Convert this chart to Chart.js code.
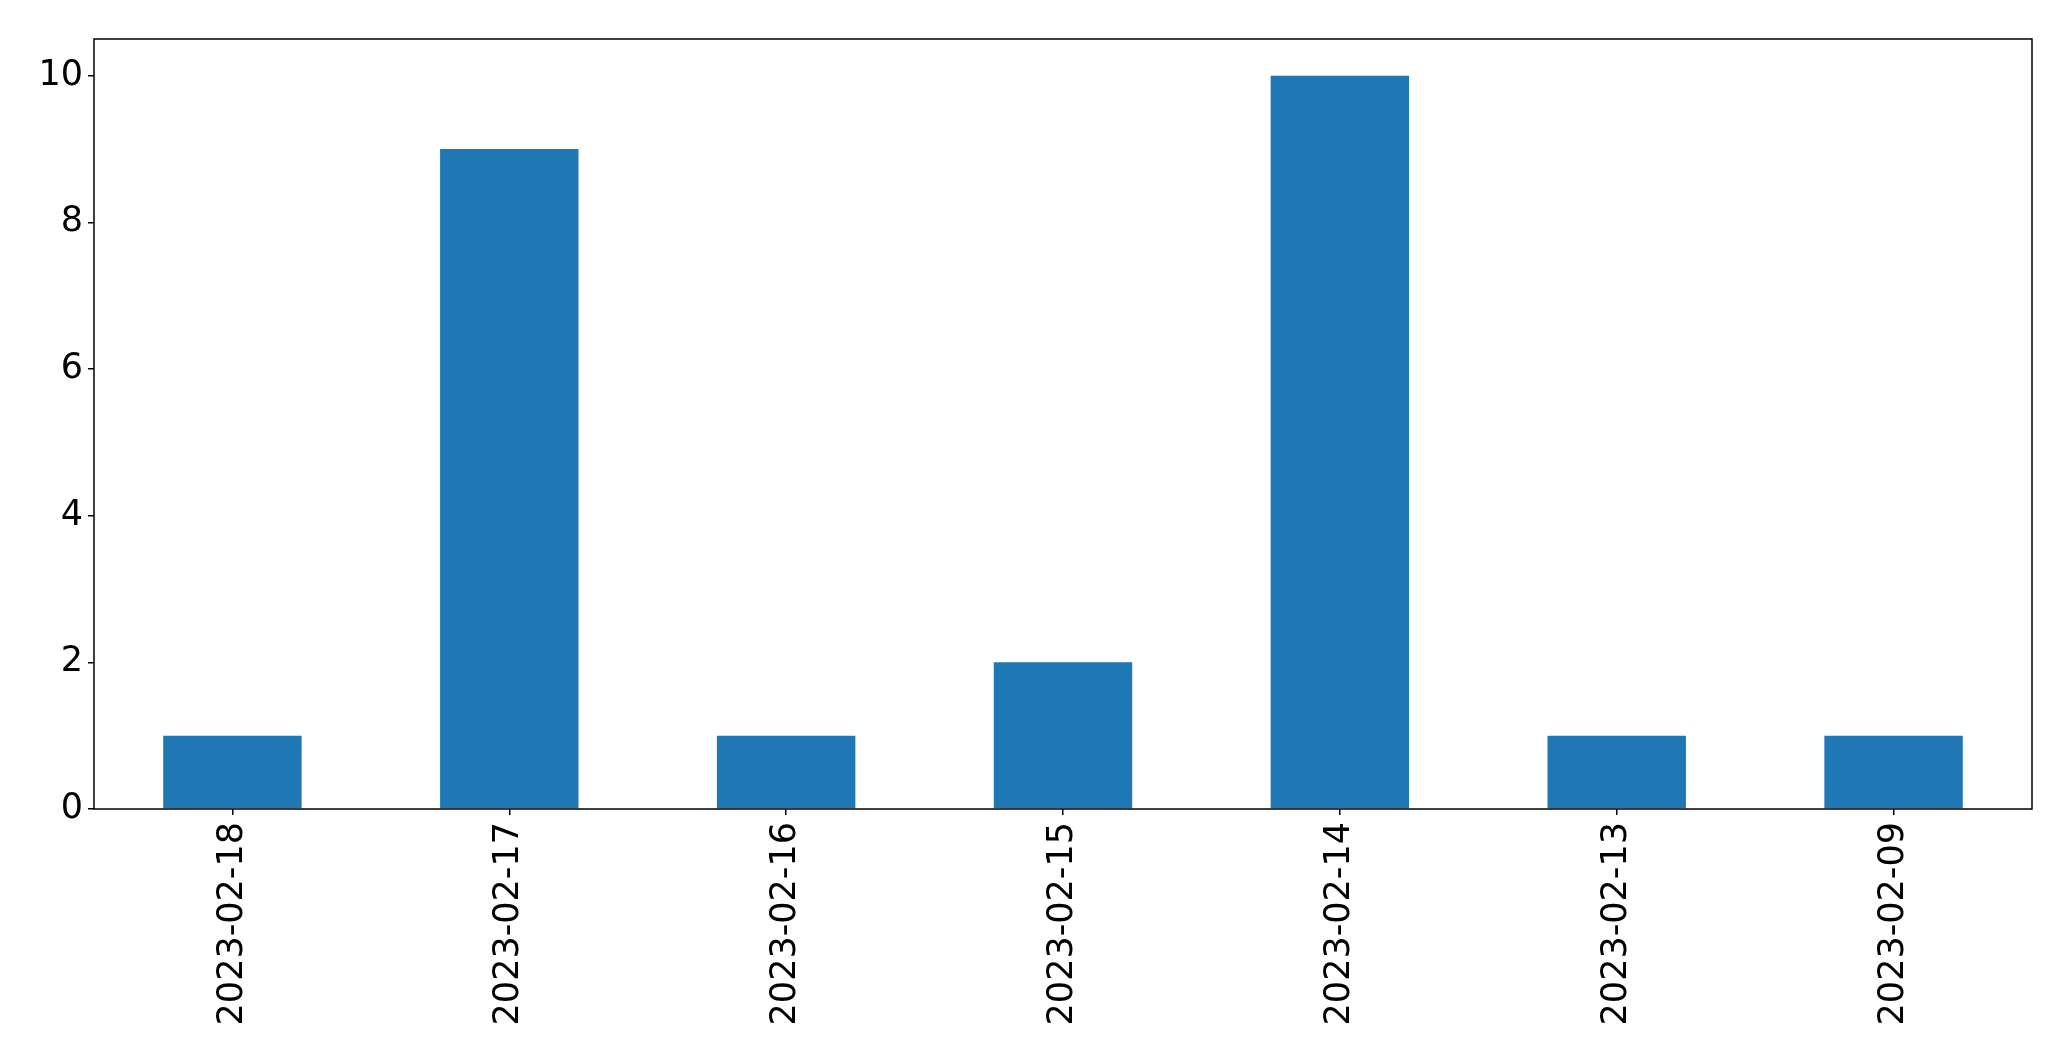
<!DOCTYPE html>
<html>
<head>
<meta charset="utf-8">
<script src="https://cdn.jsdelivr.net/npm/chart.js@4"></script>
<style>
  html, body { margin: 0; padding: 0; background: #ffffff; }
  #wrap { width: 2071px; height: 1061px; }
</style>
</head>
<body>
<div id="wrap"><canvas id="chart" width="2071" height="1061"></canvas></div>
<script>
// categories and counts
const dates = ["2023-02-18", "2023-02-17", "2023-02-16", "2023-02-15", "2023-02-14", "2023-02-13", "2023-02-09"];
const counts = [1, 9, 1, 2, 10, 1, 1];
const yTicks = [0, 2, 4, 6, 8, 10];

const FONT = { family: "DejaVu Sans", size: 35 };

// full box around the plot area, like a matplotlib axes frame
const frame = {
    id: "frame",
    afterDraw(chart) {
        const a = chart.chartArea;
        const ctx = chart.ctx;
        ctx.save();
        ctx.strokeStyle = "#000000";
        ctx.lineWidth = 1.5;
        ctx.strokeRect(a.left, a.top, a.right - a.left, a.bottom - a.top);
        ctx.restore();
    },
};

new Chart(document.getElementById("chart"), {
    type: "bar",
    data: {
        labels: dates,
        datasets: [{
            data: counts,
            backgroundColor: "#1f77b4",
            borderWidth: 0,
            barPercentage: 0.5,
            categoryPercentage: 1.0,
        }],
    },
    options: {
        responsive: false,
        animation: false,
        layout: { padding: { top: 39, right: 39, left: 0, bottom: 0 } },
        plugins: {
            legend: { display: false },
            tooltip: { enabled: false },
        },
        scales: {
            x: {
                offset: true,
                grid: { offset: false, drawOnChartArea: false, color: "#000000", tickLength: 6, lineWidth: 1.5 },
                border: { display: false },
                ticks: { color: "#000000", font: FONT, minRotation: 90, maxRotation: 90, padding: 7, autoSkip: false },
                afterFit(scale) { scale.height = 1061 - 809; },
            },
            y: {
                min: 0,
                max: 10.5,
                grid: { drawOnChartArea: false, color: "#000000", tickLength: 6, lineWidth: 1.5 },
                border: { display: false },
                afterBuildTicks(scale) { scale.ticks = yTicks.map(v => ({ value: v })); },
                ticks: { color: "#000000", font: FONT, padding: 5 },
                afterFit(scale) { scale.width = 94; },
            },
        },
    },
    plugins: [frame],
});
</script>
</body>
</html>
